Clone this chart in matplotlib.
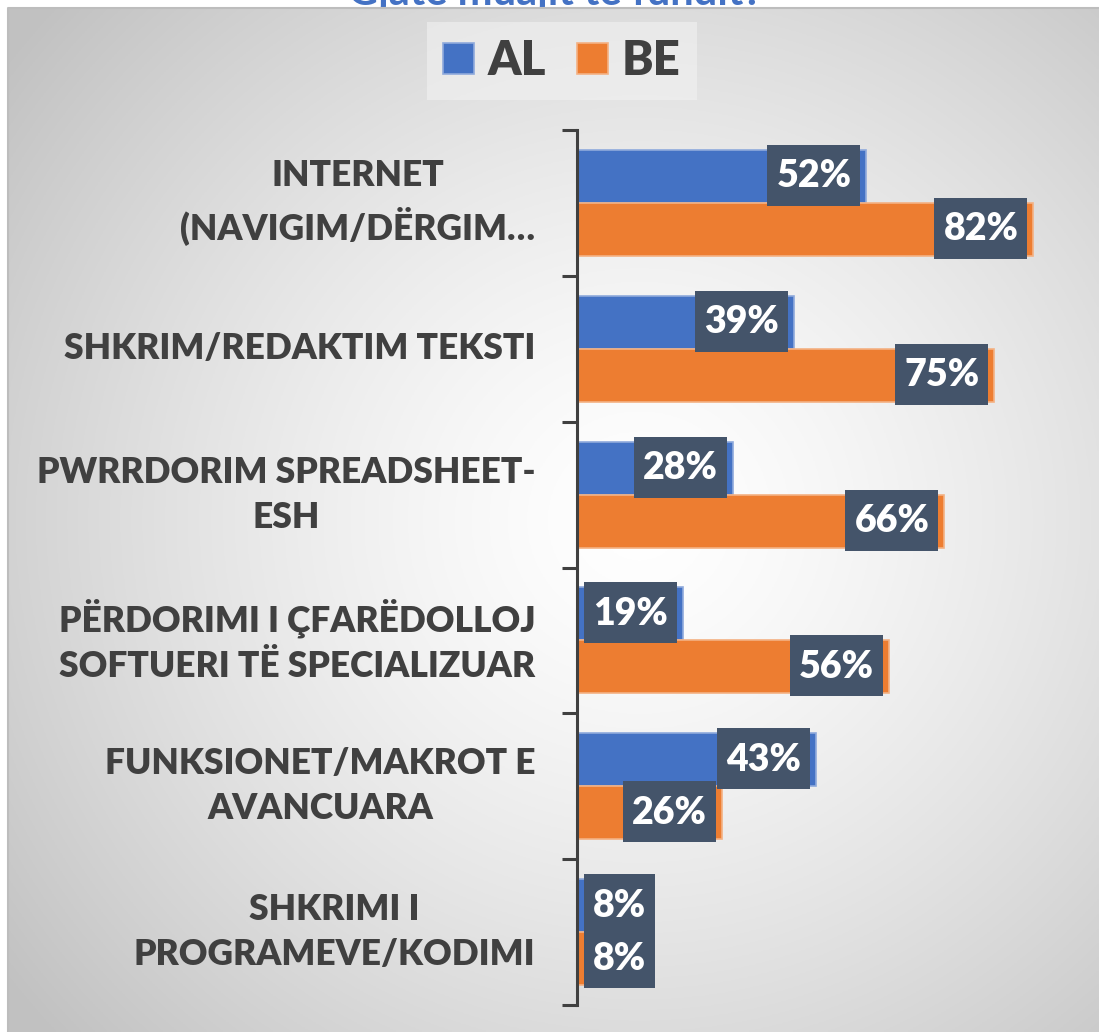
import numpy as np
import matplotlib
matplotlib.use("Agg")
import matplotlib.pyplot as plt
import matplotlib.transforms as mtransforms
from matplotlib.patches import Rectangle

# ---------------- DATA ----------------
categories = [
    "INTERNET\n(NAVIGIM/DËRGIM…",
    "SHKRIM/REDAKTIM TEKSTI",
    "PWRRDORIM SPREADSHEET-\nESH",
    "PËRDORIMI I ÇFARËDOLLOJ\nSOFTUERI TË SPECIALIZUAR",
    "FUNKSIONET/MAKROT E\nAVANCUARA",
    "SHKRIMI I\nPROGRAMEVE/KODIMI",
]
al_values = [52, 39, 28, 19, 43, 8]
be_values = [82, 75, 66, 56, 26, 8]
series_names = ["AL", "BE"]
title_text = "Gjatë muajit të fundit?"

# ---------------- STYLE ----------------
W, H = 1099, 1032
blue = "#4472C4"
orange = "#ED7D31"
label_box = "#44546A"
text_dark = "#404040"
font = "Lato"
weight = "heavy"

fig = plt.figure(figsize=(W / 100, H / 100), dpi=100)
fig.patch.set_facecolor("white")

# background panel with radial gradient, title sits under it
bg = fig.add_axes([0, 0, 1, 1], zorder=0)
bg.set_xlim(0, W)
bg.set_ylim(H, 0)
bg.axis("off")
bg.text(555, 5, title_text, ha="center", va="baseline", fontsize=30,
        fontweight="bold", color=blue, family=font, zorder=0)
px0, py0 = 8, 8
xx, yy = np.meshgrid(np.linspace(px0, W, 400), np.linspace(py0, H, 400))
d = np.sqrt(((xx - 640) / 560) ** 2 + ((yy - 520) / 540) ** 2) / np.sqrt(2)
v = 1.0 - 0.24 * np.clip(d, 0, 1) ** 1.4
img = np.dstack([v, v, v])
bg.imshow(img, extent=[px0, W, H, py0], aspect="auto", zorder=1)
bg.plot([px0, px0, W], [H, py0, py0], color="#bdbdbd", lw=1.5, zorder=2)

# ---------------- BAR CHART ----------------
ax_left, ax_right = 577, W
ax_top, ax_bottom = 130, 1005
ax = fig.add_axes([ax_left / W, 1 - ax_bottom / H, (ax_right - ax_left) / W,
                   (ax_bottom - ax_top) / H], zorder=2)
ax.patch.set_alpha(0)

px_per_pct = 5.565
y = np.arange(len(categories))
bh = 0.363
bars_al = ax.barh(y - bh / 2, al_values, height=bh, color=blue,
                  edgecolor="#8FAADC", linewidth=1.2, label=series_names[0])
bars_be = ax.barh(y + bh / 2, be_values, height=bh, color=orange,
                  edgecolor="#F4B183", linewidth=1.2, label=series_names[1])
ax.set_xlim(0, (ax_right - ax_left) / px_per_pct)
ax.set_ylim(len(categories) - 0.5, -0.5)

for s in ["top", "right", "bottom"]:
    ax.spines[s].set_visible(False)
ax.spines["left"].set_color(text_dark)
ax.spines["left"].set_linewidth(2.2)
ax.set_xticks([])
ax.set_yticks(y)
ax.set_yticklabels(categories, fontsize=25.5, fontweight=weight, color=text_dark,
                   family=font, multialignment="center", linespacing=1.45,
                   va="center")
ax.tick_params(axis="y", which="major", length=0, pad=30)
ax.set_yticks(np.arange(len(categories) + 1) - 0.5, minor=True)
ax.tick_params(axis="y", which="minor", length=11, width=2.2, color=text_dark,
               direction="out")

# value labels in dark boxes at the inner end of bars
hpad, box_h = 9, 61
labels = []
for bars, vals in [(bars_al, al_values), (bars_be, be_values)]:
    for b, val in zip(bars, vals):
        yc = b.get_y() + b.get_height() / 2
        if val < 15:
            tr = mtransforms.offset_copy(ax.transData, fig=fig, x=7 + hpad, y=0, units="dots")
            t = ax.text(0, yc, f"{val}%", ha="left", va="center", transform=tr,
                        fontsize=27, fontweight=weight, color="white", family=font,
                        zorder=6)
        else:
            tr = mtransforms.offset_copy(ax.transData, fig=fig, x=-6 - hpad, y=0, units="dots")
            t = ax.text(val, yc, f"{val}%", ha="right", va="center", transform=tr,
                        fontsize=27, fontweight=weight, color="white", family=font,
                        zorder=6)
        labels.append((t, yc))

fig.canvas.draw()
for t, yc in labels:
    ext = t.get_window_extent()
    ymid = ax.transData.transform((0, yc))[1] + 1
    ax.add_patch(Rectangle((ext.x0 - hpad, ymid - box_h / 2), ext.width + 2 * hpad,
                           box_h, transform=None, fc=label_box, ec="none",
                           zorder=5, clip_on=False))

# ---------------- LEGEND ----------------
leg = fig.legend(handles=[bars_al, bars_be], labels=series_names, ncol=2,
                 loc="center", bbox_to_anchor=(562 / W, 1 - 61 / H),
                 prop=dict(family=font, weight=weight, size=34),
                 handlelength=0.64, handleheight=0.64, handletextpad=0.3,
                 columnspacing=0.66, borderpad=0.35, frameon=True,
                 fancybox=False, labelcolor=text_dark)
leg.get_frame().set_facecolor("#f2f2f2")
leg.get_frame().set_alpha(0.6)
leg.get_frame().set_edgecolor("none")

fig.savefig("out.png", dpi=100)
